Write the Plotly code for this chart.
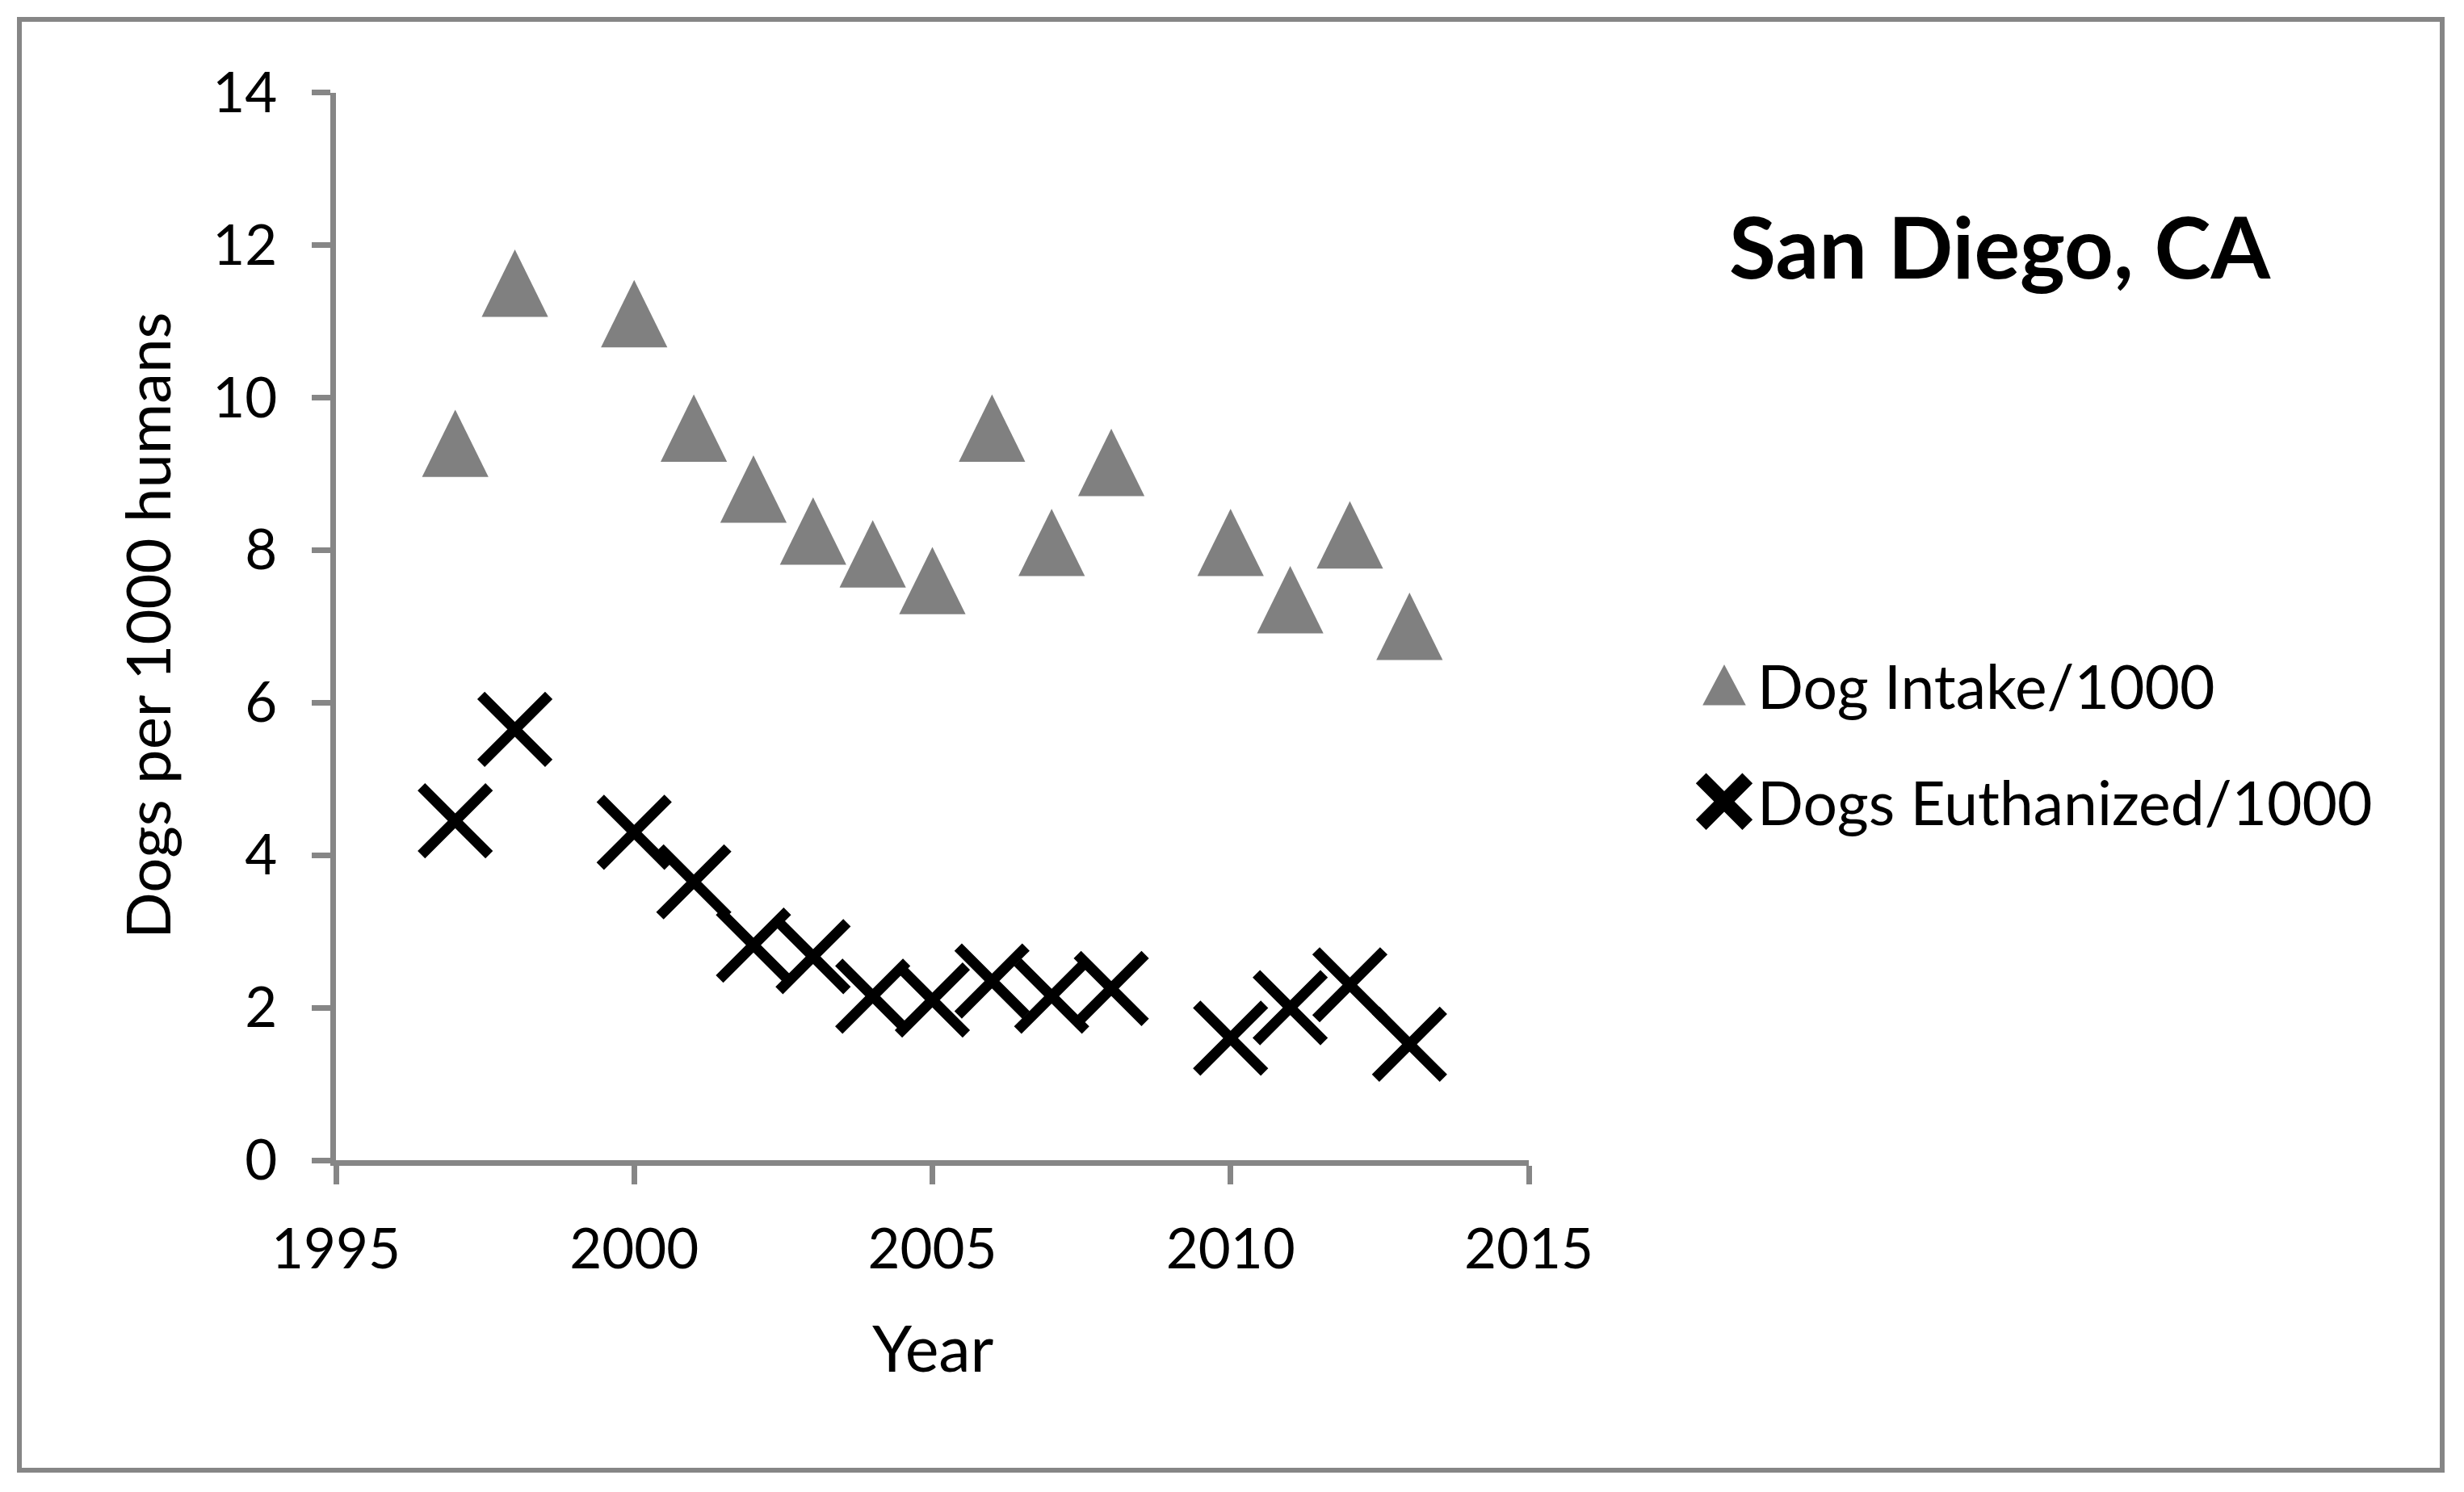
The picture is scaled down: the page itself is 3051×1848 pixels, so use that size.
import plotly.graph_objects as go

# ---- data ----
years = [1997, 1998, 2000, 2001, 2002, 2003, 2004, 2005, 2006, 2007, 2008, 2010, 2011, 2012, 2013]
dog_intake = [9.4, 11.5, 11.1, 9.6, 8.8, 8.25, 7.95, 7.6, 9.6, 8.1, 9.15, 8.1, 7.35, 8.2, 7.0]
dogs_euthanized = [4.45, 5.65, 4.3, 3.65, 2.82, 2.67, 2.15, 2.1, 2.35, 2.15, 2.25, 1.6, 2.0, 2.3, 1.52]
series_names = ["Dog Intake/1000", "Dogs Euthanized/1000"]
x_ticks = [1995, 2000, 2005, 2010, 2015]
y_ticks = [0, 2, 4, 6, 8, 10, 12, 14]
title_text = "San Diego, CA"
x_title = "Year"
y_title = "Dogs per 1000 humans"

W, H = 3051, 1848
OFF = 8  # default page body margin in the written html
AX = "#868686"
FONT = "Lato"


def px_x(p):
    return (p - OFF) / W


def px_y(p):
    return 1 - (p - OFF) / H


fig = go.Figure()
fig.add_trace(go.Scatter(
    x=years, y=dog_intake, mode="markers", name=series_names[0],
    legendgroup="a",
    marker=dict(symbol="triangle-up", size=89, color="#808080", line=dict(width=0)),
))
fig.add_trace(go.Scatter(
    x=years, y=dogs_euthanized, mode="markers", name=series_names[1],
    legendgroup="b",
    marker=dict(symbol="x-thin", size=84, color="black", line=dict(width=13, color="black")),
))

axis_common = dict(
    showline=True, linecolor=AX, linewidth=7,
    ticks="outside", ticklen=23, tickwidth=7, tickcolor=AX,
    showgrid=False, zeroline=False, automargin=False,
    tickfont=dict(family=FONT, size=69, color="black"),
)

fig.update_layout(
    width=W, height=H,
    margin=dict(l=0, r=0, t=0, b=0, pad=0, autoexpand=False),
    paper_bgcolor="white", plot_bgcolor="white",
    font=dict(family=FONT, color="black"),
    xaxis=dict(domain=[px_x(416), px_x(1893)], range=[1995, 2015],
               tickvals=x_ticks, ticklabelstandoff=21, **axis_common),
    yaxis=dict(domain=[px_y(1437), px_y(114.6)], range=[0, 14],
               tickvals=y_ticks, ticklabelstandoff=29, **axis_common),
    showlegend=True,
    legend=dict(x=px_x(2094), y=px_y(793), xanchor="left", yanchor="top",
                font=dict(family=FONT, size=75, color="black"),
                itemwidth=72, tracegroupgap=44, bgcolor="rgba(0,0,0,0)",
                borderwidth=0),
    annotations=[
        dict(text="<b>" + title_text + "</b>", x=px_x(2477), y=px_y(304),
             xref="paper", yref="paper", showarrow=False, xanchor="center", yanchor="middle",
             font=dict(family=FONT, size=106, color="black")),
        dict(text=x_title, x=px_x(1155), y=px_y(1668),
             xref="paper", yref="paper", showarrow=False, xanchor="center", yanchor="middle",
             font=dict(family=FONT, size=79, color="black")),
        dict(text=y_title, x=px_x(181), y=px_y(775), textangle=-90,
             xref="paper", yref="paper", showarrow=False, xanchor="center", yanchor="middle",
             font=dict(family=FONT, size=76, color="black")),
    ],
    shapes=[dict(type="rect", xref="paper", yref="paper",
                 x0=px_x(24), x1=px_x(3024), y0=px_y(1821), y1=px_y(24),
                 line=dict(color=AX, width=6), fillcolor="rgba(0,0,0,0)")],
)

post_js = """
var gd = document.getElementById('{plot_id}');
function fixShapes(){
  var traces = gd.querySelectorAll('.scatterlayer .trace');
  if (traces.length > 0) {
    traces[0].querySelectorAll('path.point').forEach(function(p){
      var t = p.getAttribute('transform') || '';
      if (t.indexOf('scale') < 0) p.setAttribute('transform', t + ' translate(0,13.9) scale(0.8,1.25)');
    });
  }
  var lt = gd.querySelectorAll('.legend .traces');
  lt.forEach(function(g, i){
    g.querySelectorAll('.legendpoints path.scatterpts').forEach(function(p){
      var t = p.getAttribute('transform') || '';
      if (t.indexOf('scale') >= 0) return;
      if (i === 0) p.setAttribute('transform', t + ' translate(0,8.4) scale(2.9,4.2)');
      else p.setAttribute('transform', t + ' scale(3.6)');
    });
  });
}
fixShapes();
gd.on('plotly_afterplot', fixShapes);
"""

fig.write_html("out.html", post_script=post_js)
